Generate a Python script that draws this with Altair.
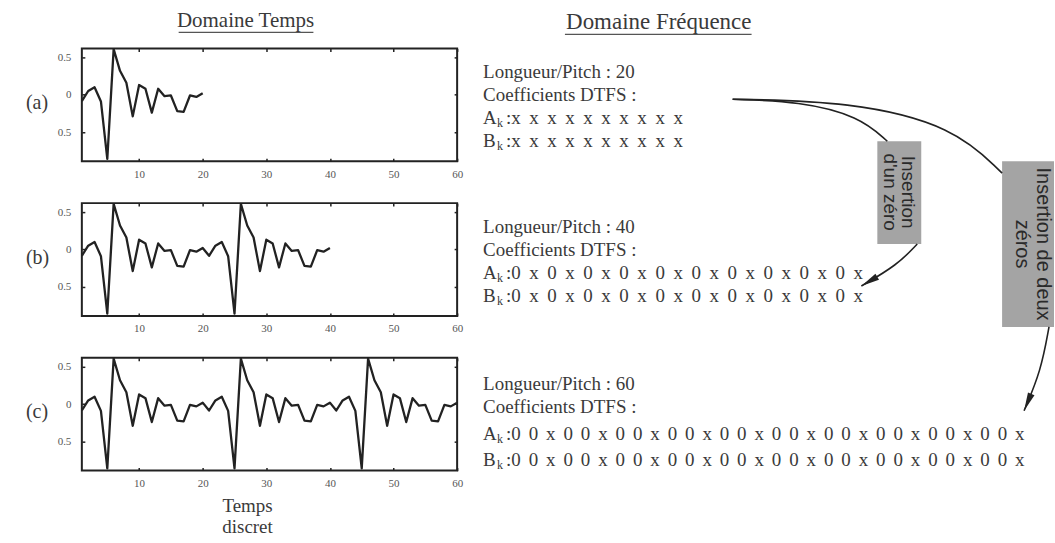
import math
import altair as alt
import pandas as pd

# ---------------- data ----------------
# one pitch period of the excitation signal, samples n = 1..20
period = [-0.085, 0.05, 0.10, -0.09, -0.86, 0.61, 0.32, 0.16, -0.29, 0.13,
          0.08, -0.24, 0.08, -0.02, -0.01, -0.22, -0.23, -0.01, -0.03, 0.02]
pitch_lengths = [20, 40, 60]          # (a) one period, (b) two, (c) three
panel_tags = ["(a)", "(b)", "(c)"]
x_ticks = [10, 20, 30, 40, 50, 60]
y_ticks = [-0.5, 0, 0.5]

header_time = "Domaine Temps"
header_freq = "Domaine Fréquence"
x_caption = ["Temps", "discret"]

pitch_lines = ["Longueur/Pitch : 20", "Longueur/Pitch : 40", "Longueur/Pitch : 60"]
coef_title = "Coefficients DTFS :"
coef_patterns = [["x"], ["0", "x"], ["0", "0", "x"]]
n_harmonics = 10
box_one = ["Insertion", "d'un zéro"]
box_two = ["Insertion de deux", "zéros"]

# ---------------- layout / style ----------------
OX, OY = 81, 47            # top-left corner of the first plot area on the page
W, H, GAP = 376, 113, 42   # plot size and vertical gap between plots
INK = "#222222"
TXT = "#3a3a3a"
SERIF = "Liberation Serif"
SANS = "Liberation Sans"

x_scale = alt.Scale(domain=[1, 60], nice=False, zero=False)
y_scale = alt.Scale(domain=[-0.89, 0.62], nice=False, zero=False)

label_expr = "datum.value == 0 ? '0' : format(abs(datum.value), '.1f')"
ax_bottom = alt.Axis(orient="bottom", values=x_ticks, offset=-3, tickSize=3,
                     labelPadding=7, title=None, domain=False, grid=False,
                     labelFlush=False)
ax_top = alt.Axis(orient="top", values=x_ticks, offset=-3, tickSize=3,
                  labels=False, title=None, domain=False, grid=False)
ax_left = alt.Axis(orient="left", values=y_ticks, offset=-3, tickSize=3,
                   labelPadding=11, title=None, domain=False, grid=False,
                   labelExpr=label_expr, labelFlush=False)
ax_right = alt.Axis(orient="right", values=y_ticks, offset=-3, tickSize=3,
                    labels=False, title=None, domain=False, grid=False)


def page(df):
    """Convert page coordinates to coordinates of the first plot area."""
    df = df.copy()
    df["px"] = df["x"] - OX
    df["py"] = df["y"] - OY
    return df


def pos(field_x="px", field_y="py"):
    return dict(x=alt.X(f"{field_x}:Q", scale=None, axis=None),
                y=alt.Y(f"{field_y}:Q", scale=None, axis=None))


def text_layer(rows, **mark):
    df = page(pd.DataFrame(rows))
    enc = pos()
    enc["text"] = alt.Text("text:N")
    enc["size"] = alt.Size("size:Q", scale=None, legend=None)
    return alt.Chart(df).mark_text(**mark).encode(**enc)


# ---------------- annotation layers ----------------
rows_center = [
    dict(text=header_time, x=245, y=20, size=21),
    dict(text=header_freq, x=659, y=21, size=23),
    dict(text=x_caption[0], x=247, y=505, size=19),
    dict(text=x_caption[1], x=247, y=526, size=19),
]
rows_left = []
for tag, ty in zip(panel_tags, [102, 257, 411]):
    rows_left.append(dict(text=tag, x=25, y=ty, size=20))

# baseline-middle positions of the four lines of each text block
block_lines_y = [[71, 94, 117, 140], [226, 249, 272, 295], [383, 406, 433, 459]]
block_seps = ["\u2009 ", "\u2009 ", "\u2006 "]
sub_rows = []
for b in range(3):
    ys = block_lines_y[b]
    rows_left.append(dict(text=pitch_lines[b], x=483, y=ys[0], size=19))
    rows_left.append(dict(text=coef_title, x=483, y=ys[1], size=19))
    body = ":" + block_seps[b].join(coef_patterns[b] * n_harmonics)
    for j, letter in enumerate(["A", "B"]):
        yy = ys[2 + j]
        rows_left.append(dict(text=letter, x=483, y=yy, size=19))
        sub_rows.append(dict(text="k", x=497, y=yy + 5, size=12))
        rows_left.append(dict(text=body, x=506, y=yy, size=19))

headers = text_layer(rows_center, font=SERIF, color=TXT, align="center", baseline="middle")
body_text = text_layer(rows_left, font=SERIF, color=TXT, align="left", baseline="middle")
subs = text_layer(sub_rows, font=SERIF, color=TXT, align="left", baseline="middle")

underline_df = page(pd.DataFrame([
    dict(x=178, x2=313, y=31),
    dict(x=565, x2=752, y=33),
]))
underline_df["px2"] = underline_df["x2"] - OX
underlines = alt.Chart(underline_df).mark_rule(color="#555555", strokeWidth=1.3).encode(
    **pos(), x2=alt.X2("px2:Q"))

boxes_df = page(pd.DataFrame([
    dict(x=878, x2=922, y=140, y2=243),
    dict(x=1003, x2=1055, y=160, y2=326),
]))
boxes_df["px2"] = boxes_df["x2"] - OX
boxes_df["py2"] = boxes_df["y2"] - OY
boxes = alt.Chart(boxes_df).mark_rect(color="#a4a4a4").encode(
    **pos(), x2=alt.X2("px2:Q"), y2=alt.Y2("py2:Q"))

box_text = text_layer([
    dict(text=box_one[0], x=909, y=191, size=19),
    dict(text=box_one[1], x=891, y=191, size=19),
    dict(text=box_two[0], x=1044, y=243, size=20),
    dict(text=box_two[1], x=1023, y=243, size=20),
], font=SANS, color="#2a2a2a", align="center", baseline="middle", angle=90)

paths = [
    [(733, 98), (800, 100), (860, 115), (888, 140)],
    [(733, 98), (850, 100), (955, 125), (1003, 172)],
    [(918, 243), (898, 264), (862, 285)],
    [(1050, 326), (1042, 370), (1025, 410)],
]
curve_rows = []
for pid, pts in enumerate(paths):
    for k, (x, y) in enumerate(pts):
        curve_rows.append(dict(path=pid, k=k, x=x, y=y))
curves = alt.Chart(page(pd.DataFrame(curve_rows))).mark_line(
    interpolate="basis", color=INK, strokeWidth=1.6).encode(
    **pos(), detail="path:N", order="k:Q")

heads = []
for pts in paths[2:]:
    (x1, y1), (x2, y2) = pts[-2], pts[-1]
    ang = math.degrees(math.atan2(x2 - x1, -(y2 - y1))) % 360
    heads.append(dict(x=x2, y=y2, ang=ang))
arrowheads = alt.Chart(page(pd.DataFrame(heads))).mark_point(
    shape="M0,0 L0.5,2.6 L-0.5,2.6 Z", filled=True, color=INK, opacity=1, size=200
).encode(**pos(), angle=alt.Angle("ang:Q", scale=None, legend=None))

anchor = alt.Chart(pd.DataFrame({"a": [0]})).mark_rect(color="white").encode(
    x=alt.value(-OX), x2=alt.value(-OX + 1), y=alt.value(-OY), y2=alt.value(-OY + 1))

annotations = [anchor, boxes, box_text, underlines, headers, body_text, subs,
               curves, arrowheads]


# ---------------- waveform panels ----------------
def panel(i, extra):
    length = pitch_lengths[i]
    reps = length // len(period)
    df = pd.DataFrame({"n": list(range(1, length + 1)), "v": period * reps})
    base = alt.Chart(df)
    trace = base.mark_line(color=INK, strokeWidth=2.3, clip=True,
                           strokeJoin="round").encode(
        x=alt.X("n:Q", scale=x_scale, axis=ax_bottom),
        y=alt.Y("v:Q", scale=y_scale, axis=ax_left))
    frame = base.mark_line(opacity=0).encode(
        x=alt.X("n:Q", scale=x_scale, axis=ax_top),
        y=alt.Y("v:Q", scale=y_scale, axis=ax_right))
    return alt.layer(trace, frame, *extra).resolve_axis(
        x="independent", y="independent").properties(width=W, height=H)


chart = alt.vconcat(
    panel(0, annotations), panel(1, []), panel(2, []),
    spacing=GAP, bounds="flush"
).properties(padding=0).configure(background="white").configure_view(
    stroke=INK, strokeWidth=2
).configure_axis(
    labelFont=SERIF, labelFontSize=11, labelColor="#555555",
    tickColor=INK, tickWidth=1.5
)

chart.save("out.html", embed_options={"renderer": "svg", "actions": False})
